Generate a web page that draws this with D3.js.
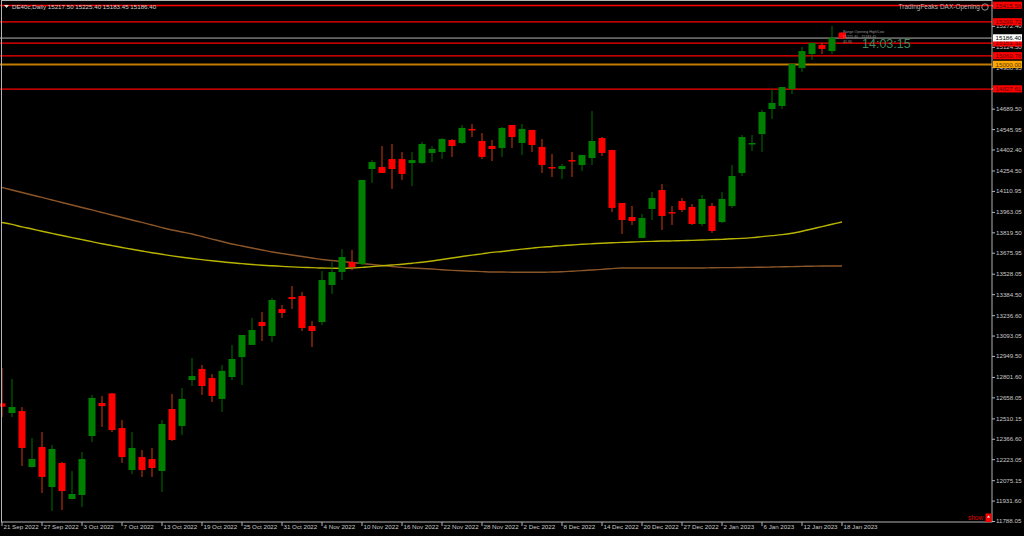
<!DOCTYPE html>
<html>
<head>
<meta charset="utf-8">
<script src="https://cdn.jsdelivr.net/npm/d3@7"></script>
<style>
  html, body { margin: 0; padding: 0; background: #000; }
  svg { display: block; font-family: "Liberation Sans", Arial, sans-serif; }
</style>
</head>
<body>
<div id="chart"></div>
<script>
// DE40 daily candles, 21 Sep 2022 .. 18 Jan 2023
const opens  = [12616,12548,12562,12168,12309,12027,12196,11943,11971,12386,12618,12686,12442,12147,12238,12224,12140,12576,12457,12780,
                12858,12794,12647,12801,12942,13027,13188,13090,13280,13364,13371,13160,13188,13449,13540,13611,13597,14265,14279,14335,
                14335,14307,14307,14378,14385,14469,14448,14547,14462,14427,14413,14575,14448,14540,14420,14279,14265,14328,14293,14342,
                14483,14399,14026,13927,13780,13984,14117,13962,14040,13998,13878,14005,13892,14005,14237,14441,14511,14687,14708,14828,
                14976,15074,15138,15095,15217.50];
const highs  = [12865,12787,12590,12372,12414,12323,12203,12140,12274,12675,12668,12689,12499,12414,12288,12302,12499,12682,12724,12935,
                12886,12822,12886,13027,13097,13217,13259,13357,13308,13442,13400,13195,13547,13611,13702,13695,14188,14328,14427,14441,
                14385,14385,14455,14427,14483,14476,14575,14582,14518,14469,14561,14575,14582,14540,14476,14371,14300,14385,14364,14673,
                14490,14399,14026,14005,13948,14103,14160,14005,14061,14019,14082,14026,14103,14293,14504,14504,14680,14828,14842,15004,
                15124,15152,15152,15271,15225.40];
const lows   = [12520,12520,12175,12165,11985,11858,11865,11940,11887,12344,12450,12414,12196,12119,12098,12098,11992,12351,12393,12738,
                12675,12625,12555,12780,12745,13027,13055,13048,13217,13280,13125,13012,13167,13385,13484,13554,13590,14167,14237,14124,
                14188,14145,14300,14314,14335,14350,14441,14490,14335,14321,14350,14413,14364,14385,14237,14209,14195,14209,14251,14293,
                14357,13962,13808,13871,13780,13906,13836,13871,13962,13871,13864,13815,13885,13991,14216,14392,14385,14617,14687,14793,
                14948,15032,15074,15074,15183.45];
const closes = [12592,12590,12302,12224,12098,12295,11999,11978,12224,12654,12597,12428,12238,12302,12147,12161,12471,12358,12647,12808,
                12738,12668,12844,12928,13097,13132,13160,13343,13252,13350,13146,13125,13484,13540,13646,13575,14188,14314,14237,14265,
                14230,14328,14441,14406,14476,14427,14554,14540,14350,14406,14554,14490,14547,14434,14293,14272,14286,14321,14364,14462,
                14378,13991,13906,13899,13920,14061,13934,13955,13977,13878,14054,13829,14054,14216,14490,14448,14666,14730,14842,15004,
                15095,15152,15110,15187,15186.40];

// moving averages, one value per candle
const maBrown  = [14135,14117,14100,14082,14065,14047,14029,14012,13994,13977,13959,13941,13924,13906,13889,13871,13853,13836,13822,13808,
                  13790,13772,13755,13737,13723,13709,13695,13681,13670,13660,13649,13639,13628,13621,13614,13607,13600,13593,13586,13579,
                  13573,13568,13565,13561,13556,13552,13549,13546,13543,13540,13540,13539,13538,13538,13538,13540,13542,13546,13550,13554,
                  13559,13564,13568,13568,13568,13568,13568,13568,13568,13568,13568,13570,13571,13571,13572,13573,13574,13575,13577,13578,
                  13580,13581,13582,13582,13582];
const maYellow = [13889,13875,13858,13843,13827,13812,13797,13782,13768,13754,13739,13726,13713,13700,13688,13676,13665,13654,13644,13635,
                  13627,13619,13612,13605,13599,13593,13588,13584,13580,13576,13573,13571,13568,13567,13566,13568,13573,13578,13584,13590,
                  13595,13602,13609,13618,13628,13639,13649,13659,13668,13678,13685,13693,13701,13708,13715,13720,13726,13730,13735,13739,
                  13743,13746,13749,13751,13754,13756,13758,13759,13761,13763,13765,13768,13770,13774,13777,13782,13789,13796,13803,13813,
                  13827,13843,13860,13876,13892];

// bottom axis: every 4th bar
const dateLabels = ["21 Sep 2022","27 Sep 2022","3 Oct 2022","7 Oct 2022","13 Oct 2022","19 Oct 2022","25 Oct 2022","31 Oct 2022",
                    "4 Nov 2022","10 Nov 2022","16 Nov 2022","22 Nov 2022","28 Nov 2022","2 Dec 2022","8 Dec 2022","14 Dec 2022",
                    "20 Dec 2022","27 Dec 2022","2 Jan 2023","6 Jan 2023","12 Jan 2023","18 Jan 2023"];
const priceTicks = [11788.05,11931.60,12075.15,12223.05,12366.60,12510.15,12658.05,12801.60,12949.50,13093.05,13236.60,
                    13384.50,13528.05,13675.95,13819.50,13963.05,14110.95,14254.50,14402.40,14545.95,14689.50,
                    14833.05,14980.95,15124.50,15272.40,15415.95];

// horizontal levels drawn on the chart
const redLevels = [15415.58, 15299.72, 15151.31, 15060.78, 14827.61];
const orangeLevel = 15000.00;
const lastPrice = 15186.40;

const headerText = "DE40c,Daily  15217.50 15225.40 15183.45 15186.40";

class CandleChart {

	constructor() {
		this.W = 1024;
		this.H = 536;
		this.plotRight = 992;
		this.plotBottom = 522;
		this.initVis();
		this.renderVis();
	}

	initVis() {
		let vis = this;

		vis.svg = d3.select("#chart").append("svg")
			.attr("width", vis.W)
			.attr("height", vis.H);

		vis.svg.append("rect").attr("width", vis.W).attr("height", vis.H).attr("fill", "#000");

		// bar index -> x, price -> y
		vis.x = d3.scaleLinear().domain([0, 84]).range([2, 842]);
		vis.y = d3.scaleLinear().domain([11788.05, 15415.58]).range([521, 5.5]);

		vis.plot = vis.svg.append("g");
	}

	renderVis() {
		let vis = this;
		let x = vis.x, y = vis.y;
		let bars = d3.range(opens.length);

		// frame
		vis.svg.append("rect")
			.attr("x", 1.5).attr("y", 0.5)
			.attr("width", vis.plotRight - 1.5).attr("height", vis.plotBottom - 0.5)
			.attr("fill", "none").attr("stroke", "#b4b4b4").attr("stroke-width", 1);

		// moving averages
		let line = d3.line().x((d, i) => x(i)).y(d => y(d)).curve(d3.curveMonotoneX);
		vis.plot.append("path").datum(maBrown)
			.attr("d", line).attr("fill", "none").attr("stroke", "#8a5528").attr("stroke-width", 1.4);
		vis.plot.append("path").datum(maYellow)
			.attr("d", line).attr("fill", "none").attr("stroke", "#b8b400").attr("stroke-width", 1.4);

		// level lines
		vis.plot.selectAll(".lvl").data(redLevels).join("line")
			.attr("class", "lvl")
			.attr("x1", 0).attr("x2", vis.plotRight)
			.attr("y1", d => y(d)).attr("y2", d => y(d))
			.attr("stroke", "#ff0000").attr("stroke-width", 1.3);
		vis.plot.append("line")
			.attr("x1", 0).attr("x2", vis.plotRight)
			.attr("y1", y(orangeLevel)).attr("y2", y(orangeLevel))
			.attr("stroke", "#c27c00").attr("stroke-width", 2);
		vis.plot.append("line")
			.attr("x1", 0).attr("x2", vis.plotRight)
			.attr("y1", y(lastPrice)).attr("y2", y(lastPrice))
			.attr("stroke", "#b4b4b4").attr("stroke-width", 1);

		// candles
		let up = i => closes[i] >= opens[i];
		let g = vis.plot.selectAll(".bar").data(bars).join("g").attr("class", "bar");
		g.append("line")
			.attr("x1", i => x(i)).attr("x2", i => x(i))
			.attr("y1", i => y(highs[i])).attr("y2", i => y(lows[i]))
			.attr("stroke", i => up(i) ? "#007000" : "#d03a10")
			.attr("stroke-width", 1);
		g.append("rect")
			.attr("x", i => x(i) - 3.5)
			.attr("width", 7)
			.attr("y", i => y(Math.max(opens[i], closes[i])))
			.attr("height", i => Math.max(1.5, Math.abs(y(opens[i]) - y(closes[i]))))
			.attr("fill", i => up(i) ? "#008000" : "#ff0000");

		// right price axis
		let yAxis = d3.axisRight(y).tickValues(priceTicks).tickSize(3).tickSizeOuter(0)
			.tickFormat(d => d.toFixed(2));
		let ya = vis.svg.append("g").attr("transform", `translate(${vis.plotRight},0)`).call(yAxis);
		ya.select(".domain").remove();
		ya.selectAll(".tick line").attr("stroke", "#b4b4b4");
		ya.selectAll(".tick text").attr("fill", "#c8c8c8").attr("font-size", 6.2)
			.attr("font-family", "Liberation Sans, Arial, sans-serif").attr("x", 4);

		// bottom date axis
		let tickIdx = dateLabels.map((d, i) => i * 4);
		let xAxis = d3.axisBottom(x).tickValues(tickIdx).tickSize(4).tickSizeOuter(0)
			.tickFormat((d, i) => dateLabels[i]);
		let xa = vis.svg.append("g").attr("transform", `translate(-0.5,${vis.plotBottom})`).call(xAxis);
		xa.select(".domain").remove();
		xa.selectAll(".tick line").attr("stroke", "#b4b4b4");
		xa.selectAll(".tick text").attr("fill", "#c8c8c8").attr("font-size", 6.2)
			.attr("font-family", "Liberation Sans, Arial, sans-serif")
			.attr("text-anchor", "start").attr("x", 1.5).attr("y", 3).attr("dy", "0.71em");

		// price tags on the right (drawn over the tick labels, as in the terminal)
		let tag = (v, bg, fg) => {
			let t = vis.svg.append("g").attr("transform", `translate(${vis.plotRight + 1},${y(v)})`);
			t.append("rect").attr("x", 0).attr("y", -3.8).attr("width", 29).attr("height", 7.2).attr("fill", bg);
			t.append("text").attr("x", 2.5).attr("y", 2.2).attr("font-size", 6.2).attr("fill", fg).text(v.toFixed(2));
		};
		redLevels.forEach(v => tag(v, "#ff0000", "#5a0000"));
		tag(orangeLevel, "#ffa500", "#5a3a00");
		tag(lastPrice, "#ffffff", "#000000");

		// header
		vis.svg.append("path").attr("d", "M4,5 L9,5 L6.5,8 Z").attr("fill", "#e0e0e0");
		vis.svg.append("text").attr("x", 12).attr("y", 8.5).attr("font-size", 6.2).attr("fill", "#d0d0d0").text(headerText);

		vis.svg.append("text").attr("x", 980).attr("y", 9).attr("text-anchor", "end")
			.attr("font-size", 6.5).attr("fill", "#b4b4b4").text("TradingFeaks DAX-Opening");
		vis.svg.append("circle").attr("cx", 985).attr("cy", 7).attr("r", 3.2)
			.attr("fill", "none").attr("stroke", "#b4b4b4").attr("stroke-width", 0.8);

		// clock
		vis.svg.append("text").attr("x", 862).attr("y", 48).attr("font-size", 12.5)
			.attr("fill", "#3b8a5e").text("14:03:15");

		// range box labels next to last bar
		vis.svg.append("rect").attr("x", 839).attr("y", y(15225.40)).attr("width", 7)
			.attr("height", y(15183.45) - y(15225.40)).attr("fill", "#ff0000");
		["Range Opening High/Low", "15225.40 - 15183.45", "41.95"].forEach((s, i) => {
			vis.svg.append("text").attr("x", 843).attr("y", 33 + i * 5).attr("font-size", 3.6)
				.attr("fill", "#9a9a9a").text(s);
		});

		// show button
		vis.svg.append("text").attr("x", 968).attr("y", 519.5).attr("font-size", 6.5).attr("fill", "#e00000").text("show");
		vis.svg.append("rect").attr("x", 985.5).attr("y", 513.5).attr("width", 6).attr("height", 8.5).attr("fill", "#ff0000");
		vis.svg.append("path").attr("d", "M986.8,517.5 L990.2,517.5 L988.5,515.5 Z").attr("fill", "#fff");
	}
}

new CandleChart();
</script>
</body>
</html>
